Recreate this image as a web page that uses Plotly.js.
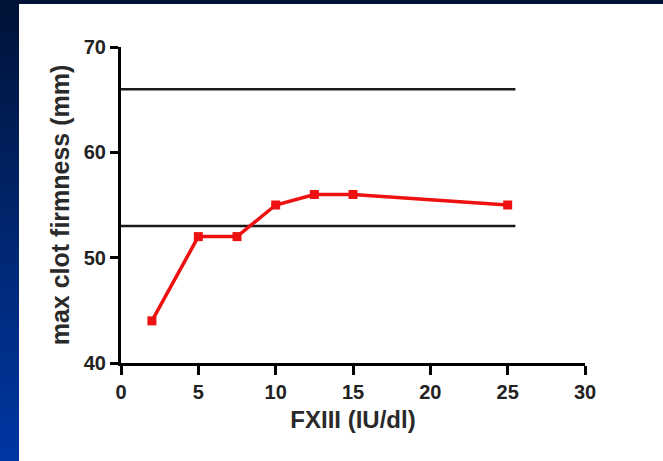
<!DOCTYPE html>
<html>
<head>
<meta charset="utf-8">
<script src="https://cdn.plot.ly/plotly-3.0.1.min.js"></script>
<style>
html,body{margin:0;padding:0;width:663px;height:461px;overflow:hidden;}
body{background:linear-gradient(to bottom,#001236 0%,#00266f 50%,#0036a3 100%);position:relative;}
#chart{position:absolute;left:19px;top:4px;width:644px;height:457px;background:#fff;}
</style>
</head>
<body>
<div id="chart"></div>
<script>
const fxiii = [2, 5, 7.5, 10, 12.5, 15, 25];
const mcf = [44, 52, 52, 55, 56, 56, 55];
const refUpper = 66;
const refLower = 53;
const refXStart = 0;
const refXEnd = 25.5;
const xTicks = [0, 5, 10, 15, 20, 25, 30];
const yTicks = [40, 50, 60, 70];

const traces = [
  {x:[refXStart, refXEnd], y:[refUpper, refUpper], mode:'lines', line:{color:'#1a1a1a', width:2.5}, hoverinfo:'skip', showlegend:false},
  {x:[refXStart, refXEnd], y:[refLower, refLower], mode:'lines', line:{color:'#1a1a1a', width:2.5}, hoverinfo:'skip', showlegend:false},
  {x:fxiii, y:mcf, mode:'lines+markers', line:{color:'#ee1111', width:3.5}, marker:{symbol:'square', size:9, color:'#ee1111'}, showlegend:false}
];

const FAM = '"Liberation Sans", Arial, sans-serif';
const fontTick = {family:FAM, size:20, color:'#222'};
const layout = {
  width:644, height:457,
  paper_bgcolor:'#ffffff', plot_bgcolor:'#ffffff',
  margin:{l:102, r:78, t:43, b:98},
  showlegend:false,
  xaxis:{
    range:[0,30], tickvals:xTicks, ticktext:xTicks.map(v => '<b>' + v + '</b>'),
    showgrid:false, zeroline:false, showline:true, linecolor:'#000', linewidth:3,
    ticks:'outside', ticklen:9, tickwidth:3, tickcolor:'#000',
    tickfont:fontTick,
    title:{text:'<b>FXIII (IU/dl)</b>', font:{family:FAM, size:24, color:'#2a2a2a'}, standoff:10}
  },
  yaxis:{
    range:[40,70], tickvals:yTicks, ticktext:yTicks.map(v => '<b>' + v + '</b>'),
    showgrid:false, zeroline:false, showline:true, linecolor:'#000', linewidth:3,
    ticks:'outside', ticklen:8, tickwidth:3, tickcolor:'#000',
    tickfont:fontTick,
    title:{text:'<b>max clot firmness (mm)</b>', font:{family:FAM, size:25, color:'#2a2a2a'}, standoff:8}
  }
};

Plotly.newPlot('chart', traces, layout, {displayModeBar:false, staticPlot:true});
</script>
</body>
</html>
